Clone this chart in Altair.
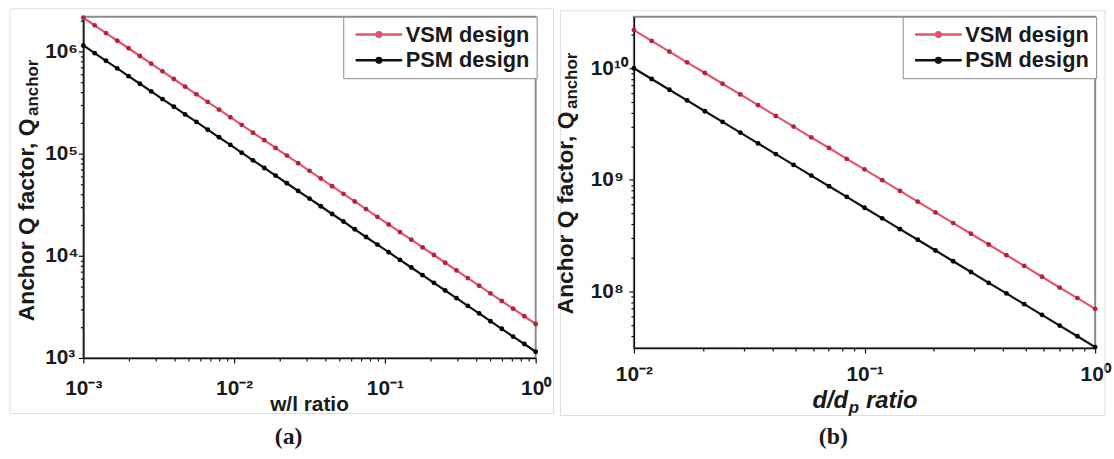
import math

import altair as alt
import pandas as pd

FONT = "Liberation Sans"
SERIF = "Liberation Serif"

SERIES = ["VSM design", "PSM design"]
LINE_COLORS = ["#e2566d", "#111111"]
DOT_COLORS = ["#b3243c", "#000000"]

# ---- panel (a): anchor Q versus w/l ratio ----
wl_ratio = [0.001, 0.001189, 0.001413, 0.001679, 0.001995, 0.002371, 0.002818,
            0.00335, 0.003981, 0.004732, 0.005623, 0.006683, 0.007943, 0.009441,
            0.01122, 0.01334, 0.01585, 0.01884, 0.02239, 0.02661, 0.03162,
            0.03758, 0.04467, 0.05309, 0.0631, 0.07499, 0.08913, 0.1059,
            0.1259, 0.1496, 0.1778, 0.2113, 0.2512, 0.2985, 0.3548, 0.4217,
            0.5012, 0.5957, 0.7079, 0.8414, 1.0]
q_vsm_a = [2.15e6, 1.81e6, 1.52e6, 1.28e6, 1.08e6, 9.07e5, 7.63e5, 6.42e5,
           5.40e5, 4.54e5, 3.82e5, 3.22e5, 2.71e5, 2.28e5, 1.92e5, 1.61e5,
           1.36e5, 1.14e5, 9.60e4, 8.08e4, 6.80e4, 5.72e4, 4.81e4, 4.05e4,
           3.41e4, 2.87e4, 2.41e4, 2.03e4, 1.71e4, 1.44e4, 1.21e4, 1.02e4,
           8.56e3, 7.20e3, 6.06e3, 5.10e3, 4.29e3, 3.61e3, 3.04e3, 2.56e3, 2.15e3]
q_psm_a = [1.15e6, 9.67e5, 8.14e5, 6.85e5, 5.76e5, 4.85e5, 4.08e5, 3.43e5,
           2.89e5, 2.43e5, 2.05e5, 1.72e5, 1.45e5, 1.22e5, 1.025e5, 8.62e4,
           7.26e4, 6.11e4, 5.14e4, 4.32e4, 3.64e4, 3.06e4, 2.57e4, 2.17e4,
           1.82e4, 1.53e4, 1.29e4, 1.086e4, 9.13e3, 7.69e3, 6.47e3, 5.44e3,
           4.58e3, 3.85e3, 3.24e3, 2.73e3, 2.29e3, 1.93e3, 1.62e3, 1.37e3, 1.15e3]

# ---- panel (b): anchor Q versus d/dp ratio ----
dd_ratio = [0.01, 0.01194, 0.01425, 0.01701, 0.02031, 0.02424, 0.02894,
            0.03455, 0.04124, 0.04924, 0.05878, 0.07017, 0.08376, 0.1,
            0.1194, 0.1425, 0.1701, 0.2031, 0.2424, 0.2894, 0.3455, 0.4124,
            0.4924, 0.5878, 0.7017, 0.8376, 1.0]
q_vsm_b = [2.20e10, 1.76e10, 1.41e10, 1.13e10, 9.07e9, 7.27e9, 5.83e9, 4.67e9,
           3.74e9, 3.00e9, 2.40e9, 1.93e9, 1.54e9, 1.24e9, 9.92e8, 7.95e8,
           6.37e8, 5.10e8, 4.09e8, 3.28e8, 2.63e8, 2.11e8, 1.69e8, 1.35e8,
           1.08e8, 8.69e7, 6.96e7]
q_psm_b = [1.0e10, 8.01e9, 6.42e9, 5.15e9, 4.12e9, 3.31e9, 2.65e9, 2.12e9,
           1.70e9, 1.36e9, 1.09e9, 8.76e8, 7.02e8, 5.62e8, 4.51e8, 3.61e8,
           2.90e8, 2.32e8, 1.86e8, 1.49e8, 1.19e8, 9.57e7, 7.67e7, 6.15e7,
           4.93e7, 3.95e7, 3.16e7]

# axis ranges and labelled decades
x_dom_a, y_dom_a = [1e-3, 1.0], [1e3, 2.2e6]
x_dom_b, y_dom_b = [1e-2, 1.0], [3.1e7, 2.9e10]
x_major_a = [0.001, 0.01, 0.1, 1.0]
y_major_a = [1000.0, 10000.0, 100000.0, 1000000.0]
x_major_b = [0.01, 0.1, 1.0]
y_major_b = [100000000.0, 1000000000.0, 10000000000.0]

SUP = str.maketrans("-0123456789", "⁻⁰¹²³⁴⁵⁶⁷⁸⁹")
# legend key: a short line with a dot in the middle (wider than the unit box,
# so the rows stay as tall as the label text)
LEGEND_SYMBOL = "M-3,0H3M-0.3,0A0.3,0.3,0,1,0,0.3,0A0.3,0.3,0,1,0,-0.3,0"

# y-axis title: main part and its subscript, written upward
Y_TITLE = "Anchor Q factor, Q"
Y_TITLE_SUB = "anchor"
Y_TITLE_SIZE, Y_SUB_SIZE = 23, 17
Y_TITLE_LEN = 206  # rendered length of Y_TITLE at Y_TITLE_SIZE, in px


def minor_ticks(lo, hi):
    """Ticks at 2..9 x every decade that fall inside [lo, hi]."""
    out = []
    for e in range(math.floor(math.log10(lo)) - 1, math.ceil(math.log10(hi)) + 1):
        for k in range(2, 10):
            v = float(f"{k}e{e}")
            if lo <= v <= hi:
                out.append(v)
    return out


def decade_axis(major, lo, hi, **kw):
    listed = ",".join(repr(v) for v in major)
    labels = " : ".join(
        f"datum.value == {v!r} ? '10{str(round(math.log10(v))).translate(SUP)}'"
        for v in major
    ) + " : ''"
    return alt.Axis(
        values=major + minor_ticks(lo, hi),
        labelExpr=labels,
        tickSize={"condition": {"test": f"indexof([{listed}], datum.value) >= 0",
                                "value": 5}, "value": 3},
        labelOverlap=False,
        labelFlush=False,
        grid=False,
        title="",
        **kw,
    )


def label(text, x, y, size, angle=0, align="left", style="normal", family=FONT):
    return alt.Chart(pd.DataFrame({"s": [text]})).mark_text(
        angle=angle, align=align, baseline="middle", font=family,
        fontSize=size, fontWeight="bold", fontStyle=style, color="#1a1a1a",
    ).encode(text="s:N", x=alt.value(x), y=alt.value(y))


def y_title(x, y_start):
    return [
        label(Y_TITLE, x, y_start, Y_TITLE_SIZE, angle=270),
        label(Y_TITLE_SUB, x + 6, y_start - Y_TITLE_LEN - 1, Y_SUB_SIZE, angle=270),
    ]


def frame(x1, x2, y1, y2):
    return alt.Chart(pd.DataFrame({"k": [0]})).mark_rect(
        filled=False, stroke="#dedede", strokeWidth=1
    ).encode(x=alt.value(x1), x2=alt.value(x2), y=alt.value(y1), y2=alt.value(y2))


def curves(ratio, vsm, psm, x_dom, y_dom, x_major, y_major, x_pad, y_pad, legend_x):
    df = pd.DataFrame({
        "ratio": ratio + ratio,
        "q": vsm + psm,
        "design": [SERIES[0]] * len(vsm) + [SERIES[1]] * len(psm),
    })
    base = alt.Chart(df).encode(
        x=alt.X("ratio:Q",
                scale=alt.Scale(type="log", domain=x_dom, nice=False),
                axis=decade_axis(x_major, *x_dom, labelPadding=x_pad)),
        y=alt.Y("q:Q",
                scale=alt.Scale(type="log", domain=y_dom, nice=False),
                axis=decade_axis(y_major, *y_dom, labelPadding=y_pad,
                                 labelAlign="left")),
    )
    lines = base.mark_line(strokeWidth=2.2).encode(
        color=alt.Color(
            "design:N",
            scale=alt.Scale(domain=SERIES, range=LINE_COLORS),
            legend=alt.Legend(
                title=None, orient="none", legendX=legend_x, legendY=0,
                symbolType=LEGEND_SYMBOL, symbolSize=246, symbolStrokeWidth=2.5,
                symbolOffset=18,
                labelFont=FONT, labelFontWeight="bold", labelFontSize=22,
                labelColor="#1a1a1a", labelOffset=16, rowPadding=4, padding=7,
                strokeColor="#8c8c8c", fillColor="white",
            ),
        ),
    )
    dots = base.mark_circle(size=24, opacity=1).encode(
        fill=alt.Fill("design:N",
                      scale=alt.Scale(domain=SERIES, range=DOT_COLORS),
                      legend=None),
    )
    return lines, dots


lines_a, dots_a = curves(wl_ratio, q_vsm_a, q_psm_a, x_dom_a, y_dom_a,
                         x_major_a, y_major_a, 15, 34, 262)
panel_a = alt.layer(
    frame(-74, 474, -8, 400),
    lines_a, dots_a,
    *y_title(-57, 307),
    label("w/l ratio", 228, 391, 21, align="center"),
    label("(a)", 207, 424, 24, align="center", family=SERIF),
).properties(width=456, height=344)

lines_b, dots_b = curves(dd_ratio, q_vsm_b, q_psm_b, x_dom_b, y_dom_b,
                         x_major_b, y_major_b, 11, 39, 271)
panel_b = alt.layer(
    frame(-74, 475, -6, 402),
    lines_b, dots_b,
    *y_title(-68, 300),
    label("d/d", 216, 387, 24, align="right", style="italic"),
    label("p", 216.5, 394, 17, style="italic"),
    label("ratio", 234, 387, 24, style="italic"),
    label("(b)", 201, 424, 24, align="center", family=SERIF),
).properties(width=465, height=334)

chart = (
    alt.hconcat(panel_a, panel_b, spacing=99, bounds="flush")
    .resolve_scale(color="independent", fill="independent")
    .resolve_legend(color="independent")
    .properties(padding={"left": 8, "top": 5, "right": 2, "bottom": 4},
                background="white")
    .configure_view(stroke="#8c8c8c", strokeWidth=2)
    .configure_axis(
        labelFont=FONT, labelFontWeight="bold", labelFontSize=21,
        labelColor="#1a1a1a", domainColor="#111111", domainWidth=1.5,
        tickColor="#111111", tickWidth=1.2,
    )
)

chart.save("out.html", embed_options={"renderer": "svg", "actions": False})
